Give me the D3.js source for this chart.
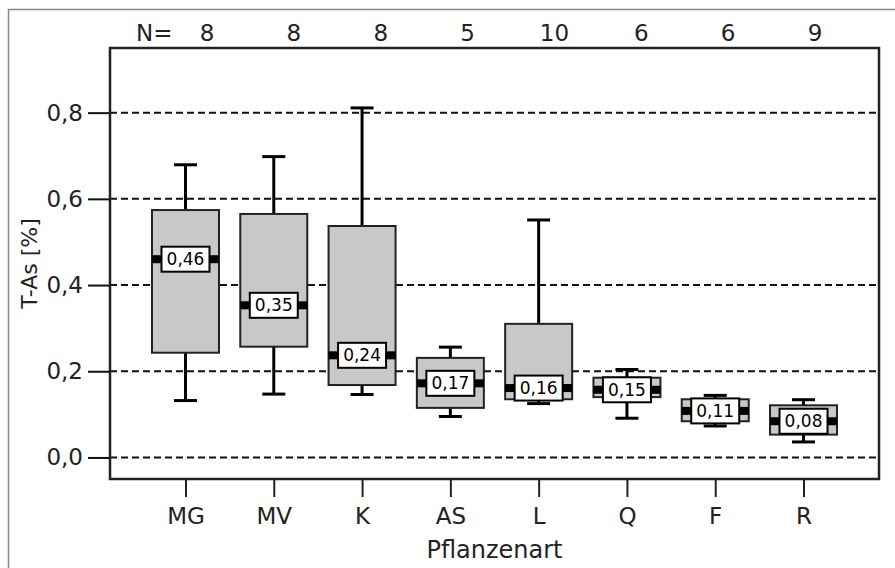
<!DOCTYPE html>
<html>
<head>
<meta charset="utf-8">
<script src="https://cdn.jsdelivr.net/npm/d3@7"></script>
<style>
  body { margin: 0; background: #fff; }
  svg text { font-family: 'DejaVu Sans', sans-serif; fill: #222; }
</style>
</head>
<body>
<div id="chart"></div>
<script>
'use strict'

// categories (Pflanzenart) and group sizes
const categories = ['MG', 'MV', 'K', 'AS', 'L', 'Q', 'F', 'R']
const counts = [8, 8, 8, 5, 10, 6, 6, 9]

// box plot statistics
const whiskerLow = [0.132, 0.147, 0.146, 0.095, 0.125, 0.091, 0.073, 0.036]
const q1 = [0.243, 0.257, 0.168, 0.115, 0.135, 0.140, 0.084, 0.053]
const medians = [0.46, 0.353, 0.237, 0.172, 0.161, 0.157, 0.108, 0.084]
const q3 = [0.574, 0.565, 0.537, 0.231, 0.310, 0.185, 0.135, 0.121]
const whiskerHigh = [0.679, 0.698, 0.811, 0.256, 0.551, 0.204, 0.144, 0.134]
const medianLabels = ['0,46', '0,35', '0,24', '0,17', '0,16', '0,15', '0,11', '0,08']

const yTicks = [0, 0.2, 0.4, 0.6, 0.8]

const W = 895, H = 568
const margin = { top: 48, right: 16, bottom: 89, left: 110 }
const width = W - margin.left - margin.right
const height = H - margin.top - margin.bottom

const svg = d3.select('#chart').append('svg')
    .attr('width', W)
    .attr('height', H)

// light outer frame (open at right and bottom)
svg.append('path')
    .attr('d', `M8.5,${H}V9.5H${W}`)
    .attr('fill', 'none')
    .attr('stroke', '#888')
    .attr('stroke-width', 1.5)

const g = svg.append('g')
    .attr('transform', `translate(${margin.left},${margin.top})`)

const x = d3.scalePoint().domain(categories).range([0, width]).padding(0.855)
const y = d3.scaleLinear().domain([-0.05, 0.95]).range([height, 0])

const fmt = d => d3.format('.1f')(d).replace('.', ',')

// dashed grid lines
g.append('g')
    .selectAll('line')
    .data(yTicks)
    .join('line')
    .attr('x1', 0)
    .attr('x2', width)
    .attr('y1', d => y(d))
    .attr('y2', d => y(d))
    .attr('stroke', '#111')
    .attr('stroke-width', 2)
    .attr('stroke-dasharray', '7,4')

// y axis
const yAxis = g.append('g')
    .call(d3.axisLeft(y).tickValues(yTicks).tickFormat(fmt).tickSize(22).tickPadding(5))
yAxis.select('.domain').remove()
yAxis.selectAll('.tick line').attr('stroke', '#111').attr('stroke-width', 2)
yAxis.selectAll('.tick text')
    .attr('font-size', 23)
    .attr('font-family', null)
    .attr('fill', '#333')

// x axis
const xAxis = g.append('g')
    .attr('transform', `translate(0,${height})`)
    .call(d3.axisBottom(x).tickSize(18).tickPadding(11))
xAxis.select('.domain').remove()
xAxis.selectAll('.tick line').attr('stroke', '#222').attr('stroke-width', 2)
xAxis.selectAll('.tick text')
    .attr('font-size', 23)
    .attr('font-family', null)
    .attr('fill', '#333')

const boxW = 67
const capW = 23
const groups = g.append('g')
    .selectAll('g')
    .data(categories)
    .join('g')
    .attr('transform', d => `translate(${x(d)},0)`)

// whiskers
groups.append('line')
    .attr('y1', (d, i) => y(whiskerLow[i]))
    .attr('y2', (d, i) => y(whiskerHigh[i]))
    .attr('stroke', '#000')
    .attr('stroke-width', 3)
groups.selectAll('line.cap')
    .data((d, i) => [whiskerLow[i], whiskerHigh[i]])
    .join('line')
    .attr('class', 'cap')
    .attr('x1', -capW / 2)
    .attr('x2', capW / 2)
    .attr('y1', v => y(v))
    .attr('y2', v => y(v))
    .attr('stroke', '#000')
    .attr('stroke-width', 3)

// boxes
groups.append('rect')
    .attr('x', -boxW / 2)
    .attr('width', boxW)
    .attr('y', (d, i) => y(q3[i]))
    .attr('height', (d, i) => y(q1[i]) - y(q3[i]))
    .attr('fill', '#c8c8c8')
    .attr('stroke', '#222')
    .attr('stroke-width', 2)

// median bars
groups.append('rect')
    .attr('x', -boxW / 2)
    .attr('width', boxW)
    .attr('y', (d, i) => y(medians[i]) - 4)
    .attr('height', 8)
    .attr('fill', '#000')

// median labels
groups.append('rect')
    .attr('x', -24)
    .attr('width', 48)
    .attr('y', (d, i) => y(medians[i]) - 12.5)
    .attr('height', 25)
    .attr('fill', '#fff')
    .attr('stroke', '#000')
    .attr('stroke-width', 2)
groups.append('text')
    .attr('y', (d, i) => y(medians[i]))
    .attr('dy', '0.36em')
    .attr('text-anchor', 'middle')
    .attr('font-size', 17)
    .style('fill', '#000')
    .text((d, i) => medianLabels[i])

// plot frame
g.append('rect')
    .attr('width', width)
    .attr('height', height)
    .attr('fill', 'none')
    .attr('stroke', '#222')
    .attr('stroke-width', 2.5)

// N= row
const xN = d3.scalePoint().domain(categories).range([207, 815])
svg.append('text')
    .attr('x', 136)
    .attr('y', 41)
    .attr('font-size', 23)
    .text('N=')
svg.append('g')
    .selectAll('text')
    .data(categories)
    .join('text')
    .attr('x', d => xN(d))
    .attr('y', 41)
    .attr('text-anchor', 'middle')
    .attr('font-size', 23)
    .text((d, i) => counts[i])

// axis titles
svg.append('text')
    .attr('x', margin.left + width / 2)
    .attr('y', 558)
    .attr('text-anchor', 'middle')
    .attr('font-size', 24)
    .text('Pflanzenart')
svg.append('text')
    .attr('transform', `translate(37,${margin.top + height / 2}) rotate(-90)`)
    .attr('text-anchor', 'middle')
    .attr('font-size', 22)
    .text('T-As [%]')
</script>
</body>
</html>
